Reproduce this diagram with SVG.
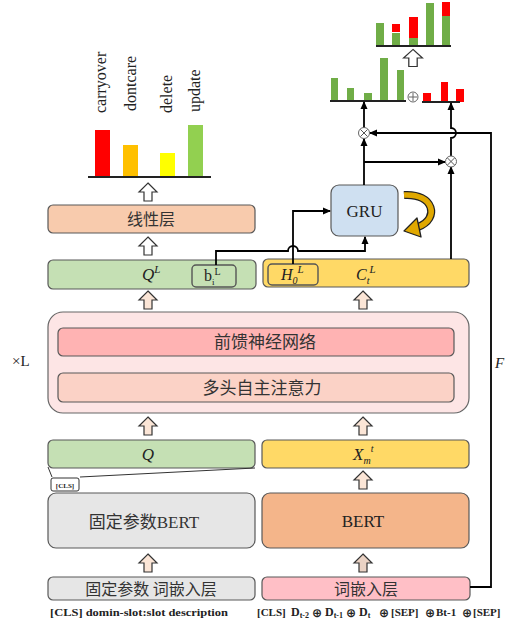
<svg xmlns="http://www.w3.org/2000/svg" xmlns:xlink="http://www.w3.org/1999/xlink" width="507" height="626" viewBox="0 0 507 626">
<defs>
<style>
.box{stroke:#595959;stroke-width:1.2}
.cn{font-family:"Noto Sans CJK SC","Noto Sans",sans-serif;fill:#333;text-anchor:middle}
.sr{font-family:"Liberation Serif","Times New Roman",serif;fill:#222}
.it{font-style:italic}
.ln{fill:none;stroke:#000;stroke-width:1.8}
.base{stroke:#222;stroke-width:2}
.hol{fill:#fff;stroke:#333;stroke-width:1.2}
.pea{fill:#FBE5D6;stroke:#333;stroke-width:1.2}
.op{fill:#fff;stroke:#666;stroke-width:1}
.ox{font-family:"DejaVu Sans",sans-serif;font-weight:bold;font-size:12px}
</style>
<path id="ha" d="M0,-9 L9,0 L4,0 L4,9 L-4,9 L-4,0 L-9,0 Z"/>
<marker id="ar" markerUnits="userSpaceOnUse" markerWidth="8" markerHeight="8" refX="7" refY="4" orient="auto">
<path d="M0,0.5 L8,4 L0,7.5 Z" fill="#000"/>
</marker>
</defs>
<rect width="507" height="626" fill="#fff"/>

<g id="chart-left">
<rect x="95" y="130" width="15" height="47" fill="#FF0000"/>
<rect x="123" y="145" width="15" height="32" fill="#FFC000"/>
<rect x="160" y="153" width="15" height="24" fill="#FFFF00"/>
<rect x="188" y="125" width="15" height="52" fill="#92D050"/>
<line class="base" x1="88" y1="177" x2="211" y2="177"/>
<g class="sr" font-size="16">
<text transform="translate(106,113) rotate(-90)">carryover</text>
<text transform="translate(136,111) rotate(-90)">dontcare</text>
<text transform="translate(172,113) rotate(-90)">delete</text>
<text transform="translate(200,112) rotate(-90)">update</text>
</g>
<use href="#ha" class="hol" transform="translate(148,192)"/>
</g>

<g id="linear">
<rect class="box" x="48" y="205" width="207" height="28" rx="5" fill="#F8CBAD"/>
<text class="cn" x="151" y="225" font-size="16">线性层</text>
</g>
<use href="#ha" class="hol" transform="translate(148,246)"/>

<g id="QL">
<rect class="box" x="48" y="260" width="208" height="29" rx="5" fill="#C5E0B4"/>
<text class="sr it" x="142" y="280" font-size="17">Q<tspan font-size="11" dy="-7">L</tspan></text>
<rect x="192" y="265" width="44" height="22" rx="4" fill="#C5E0B4" stroke="#555" stroke-width="1.4"/>
<text class="sr" x="204" y="281" font-size="16">b<tspan font-size="9" dy="4">i</tspan><tspan font-size="10" dy="-10">L</tspan></text>
</g>

<g id="HC">
<rect class="box" x="263" y="259" width="206" height="28" rx="5" fill="#FFD966"/>
<rect x="268" y="264" width="50" height="21" rx="4" fill="#FFD966" stroke="#555" stroke-width="1.4"/>
<text class="sr it" x="281" y="280" font-size="16">H<tspan font-size="10" dy="4">0</tspan><tspan font-size="11" dy="-11">L</tspan></text>
<text class="sr it" x="356" y="280" font-size="16">C<tspan font-size="10" dy="4">t</tspan><tspan font-size="11" dy="-11">L</tspan></text>
</g>

<g id="GRU">
<rect class="box" x="331" y="185" width="67" height="51" rx="8" fill="#CFE0F1"/>
<text class="sr" x="364.5" y="217" font-size="17" text-anchor="middle">GRU</text>
<path d="M404,195 C434,193 440,219 418,227" fill="none" stroke="#222" stroke-width="8"/>
<path d="M404,195 C434,193 440,219 418,227" fill="none" stroke="#E0A800" stroke-width="5.5"/>
<path d="M404,231 L417,218 L421,237 Z" fill="#E0A800" stroke="#222" stroke-width="1.3" stroke-linejoin="round"/>
</g>

<g id="chart-mid">
<rect x="331" y="78" width="7" height="23" fill="#70AD47"/>
<rect x="347" y="88" width="7" height="13" fill="#70AD47"/>
<rect x="364" y="93" width="8" height="8" fill="#70AD47"/>
<rect x="380" y="58" width="8" height="43" fill="#70AD47"/>
<rect x="397" y="70" width="7" height="31" fill="#70AD47"/>
<line class="base" x1="330" y1="101" x2="406" y2="101"/>
<circle class="op" cx="413" cy="97" r="5"/>
<path d="M409,97 H417 M413,93 V101" stroke="#666" stroke-width="1"/>
<rect x="423" y="93" width="8" height="9" fill="#FF0000"/>
<rect x="441" y="82" width="7" height="20" fill="#FF0000"/>
<rect x="456" y="89" width="8" height="13" fill="#FF0000"/>
<line class="base" x1="422" y1="102" x2="460" y2="102"/>
</g>

<g id="chart-top">
<rect x="376" y="23" width="8" height="23" fill="#70AD47"/>
<rect x="392" y="33" width="8" height="13" fill="#70AD47"/>
<rect x="392" y="24" width="8" height="8" fill="#FF0000"/>
<rect x="409" y="38" width="9" height="8" fill="#70AD47"/>
<rect x="409" y="17" width="9" height="21" fill="#FF0000"/>
<rect x="426" y="3" width="8" height="43" fill="#70AD47"/>
<rect x="442" y="16" width="8" height="30" fill="#70AD47"/>
<rect x="442" y="2" width="8" height="14" fill="#FF0000"/>
<line class="base" x1="376" y1="46" x2="451" y2="46"/>
<use href="#ha" class="hol" transform="translate(413,58) scale(1.05,0.95)"/>
</g>

<g id="transformer">
<rect x="48" y="312" width="421" height="101" rx="15" fill="#FDE5E5" stroke="#666" stroke-width="1.2"/>
<rect class="box" x="58" y="328" width="396" height="28" rx="5" fill="#FFB3B3"/>
<text class="cn" x="265" y="348" font-size="17">前馈神经网络</text>
<rect class="box" x="58" y="373" width="396" height="29" rx="5" fill="#FBD2C6"/>
<text class="cn" x="262" y="394" font-size="17">多头自主注意力</text>
<text class="sr" x="12" y="366" font-size="15">×L</text>
<text class="sr it" x="495" y="368" font-size="15">F</text>
</g>
<use href="#ha" class="pea" transform="translate(148,300)"/>
<use href="#ha" class="pea" transform="translate(363,300)"/>
<use href="#ha" class="pea" transform="translate(148,426)"/>
<use href="#ha" class="pea" transform="translate(363,426)"/>

<g id="Q">
<rect class="box" x="48" y="440" width="207" height="28" rx="5" fill="#C5E0B4"/>
<text class="sr it" x="148" y="460" font-size="17" text-anchor="middle">Q</text>
<path d="M48,467 L52,477 M80,477 L255,468" fill="none" stroke="#333" stroke-width="1"/>
<rect x="51" y="478" width="28" height="13" rx="2" fill="#fff" stroke="#333" stroke-width="1"/>
<text class="sr" x="65" y="487.5" font-size="7" font-weight="bold" text-anchor="middle">[CLS]</text>
</g>

<g id="Xm">
<rect class="box" x="262" y="440" width="207" height="28" rx="5" fill="#FFD966"/>
<text class="sr it" x="353" y="460" font-size="17">X<tspan font-size="10" dy="4">m</tspan><tspan font-size="10" dy="-12">t</tspan></text>
</g>
<use href="#ha" class="pea" transform="translate(363,480)"/>

<g id="bert-fixed">
<rect class="box" x="48" y="493" width="207" height="55" rx="8" fill="#E6E6E6"/>
<text x="144" y="528" font-size="17" text-anchor="middle" fill="#333"><tspan font-family="Noto Sans CJK SC,sans-serif">固定参数</tspan><tspan font-family="Liberation Serif,serif">BERT</tspan></text>
</g>
<g id="bert">
<rect class="box" x="262" y="493" width="207" height="55" rx="8" fill="#F4B58A"/>
<text class="sr" x="363" y="527" font-size="17" text-anchor="middle">BERT</text>
</g>
<use href="#ha" class="pea" transform="translate(148,563)"/>
<use href="#ha" transform="translate(363,563)" fill="#EAD2C4" stroke="#333" stroke-width="1.2"/>

<g id="emb-fixed">
<rect class="box" x="48" y="577" width="207" height="23" rx="5" fill="#E6E6E6"/>
<text class="cn" x="151" y="595" font-size="16">固定参数 词嵌入层</text>
</g>
<g id="emb">
<rect class="box" x="262" y="577" width="208" height="23" rx="5" fill="#FFBFC6"/>
<text class="cn" x="366" y="595" font-size="16">词嵌入层</text>
</g>

<g id="inputs" class="sr" font-size="11" font-weight="bold">
<text x="50" y="616" textLength="178" lengthAdjust="spacingAndGlyphs">[CLS] domin-slot:slot  description</text>
<text x="257" y="616">[CLS]</text>
<text x="291" y="616" font-size="12">D<tspan font-size="8" dy="2">t-2</tspan></text>
<text class="ox" x="312" y="617">⊕</text>
<text x="325" y="616" font-size="12">D<tspan font-size="8" dy="2">t-1</tspan></text>
<text class="ox" x="346" y="617">⊕</text>
<text x="359" y="616" font-size="12">D<tspan font-size="8" dy="2">t</tspan></text>
<text class="ox" x="379" y="617">⊕</text>
<text x="391" y="616">[SEP]</text>
<text class="ox" x="425" y="617">⊕</text>
<text x="436" y="616">Bt-1</text>
<text class="ox" x="462" y="617">⊕</text>
<text x="473" y="616">[SEP]</text>
</g>

<g id="connectors">
<path class="ln" d="M216,265 V251 H288 A5,5 0 0 1 298,251 H365 V237" marker-end="url(#ar)"/>
<path class="ln" d="M293,264 V211 H330" marker-end="url(#ar)"/>
<path class="ln" d="M364,185 V139" marker-end="url(#ar)"/>
<path class="ln" d="M364,162 H445" marker-end="url(#ar)"/>
<path class="ln" d="M364,128 V102" marker-end="url(#ar)"/>
<path class="ln" d="M451,259 V167" marker-end="url(#ar)"/>
<path class="ln" d="M451,156 V138 A5,5 0 0 0 451,128 V103" marker-end="url(#ar)"/>
<path class="ln" d="M470,587 H491 V133 H370" marker-end="url(#ar)"/>
<circle class="op" cx="364" cy="133" r="5.5"/>
<path d="M360.5,129.5 L367.5,136.5 M367.5,129.5 L360.5,136.5" stroke="#555" stroke-width="1"/>
<circle class="op" cx="451" cy="161.5" r="5.5"/>
<path d="M447.5,158 L454.5,165 M454.5,158 L447.5,165" stroke="#555" stroke-width="1"/>
</g>
</svg>
